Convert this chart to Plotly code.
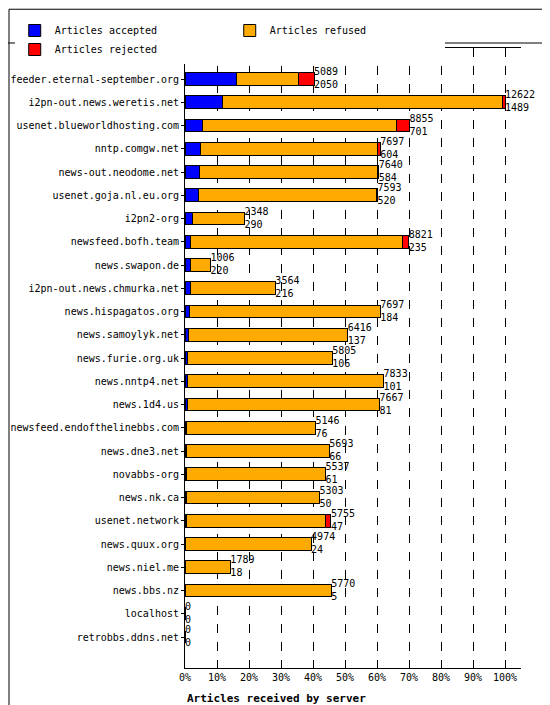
import plotly.graph_objects as go

# Per-server article counts
servers = ["feeder.eternal-september.org", "i2pn-out.news.weretis.net", "usenet.blueworldhosting.com",
           "nntp.comgw.net", "news-out.neodome.net", "usenet.goja.nl.eu.org", "i2pn2-org",
           "newsfeed.bofh.team", "news.swapon.de", "i2pn-out.news.chmurka.net", "news.hispagatos.org",
           "news.samoylyk.net", "news.furie.org.uk", "news.nntp4.net", "news.1d4.us",
           "newsfeed.endofthelinebbs.com", "news.dne3.net", "novabbs-org", "news.nk.ca",
           "usenet.network", "news.quux.org", "news.niel.me", "news.bbs.nz", "localhost", "retrobbs.ddns.net"]
offered = [5089, 12622, 8855, 7697, 7640, 7593, 2348, 8821, 1006, 3564, 7697, 6416, 5805, 7833, 7667,
           5146, 5693, 5537, 5303, 5755, 4974, 1789, 5770, 0, 0]
accepted = [2050, 1489, 701, 604, 584, 520, 290, 235, 220, 216, 184, 137, 106, 101, 81,
            76, 66, 61, 50, 47, 24, 18, 5, 0, 0]
rejected = [600, 100, 500, 100, 50, 30, 0, 250, 0, 0, 0, 0, 0, 0, 0,
            0, 0, 0, 0, 200, 0, 0, 0, 0, 0]
refused = [o - a - r for o, a, r in zip(offered, accepted, rejected)]
ticks = ["0%", "10%", "20%", "30%", "40%", "50%", "60%", "70%", "80%", "90%", "100%"]

scale = max(offered)
pct = lambda vals: [v / scale * 100 for v in vals]

mono = "DejaVu Sans Mono"
ML, MR, MT, MB = 177, 37, 40, 45
W, H = 550, 705
pw, ph = W - ML - MR, H - MT - MB

fig = go.Figure()
for name, vals, col in [("Articles accepted", accepted, "#0000ff"),
                        ("Articles refused", refused, "#ffaa00"),
                        ("Articles rejected", rejected, "#ff0000")]:
    fig.add_trace(go.Bar(y=servers, x=pct(vals), name=name, orientation="h",
                         marker=dict(color=col, line=dict(color="black", width=1))))

fig.add_trace(go.Scatter(y=servers, x=pct(offered), mode="text", showlegend=False,
                         text=[f"{o}<br>{a}" for o, a in zip(offered, accepted)],
                         textposition="middle right", textfont=dict(family=mono, size=10, color="black"),
                         cliponaxis=False))

# frame, legend separator
shapes = [
    dict(type="rect", xref="paper", yref="paper", x0=-ML / pw + 0.003, x1=1 + MR / pw - 0.003,
         y0=-MB / ph + 0.002, y1=1 + MT / ph - 0.002, line=dict(color="black", width=1)),
    dict(type="line", xref="paper", yref="paper", x0=-ML / pw, x1=1 + MR / pw,
         y0=1 + (MT - 35) / ph, y1=1 + (MT - 35) / ph, line=dict(color="black", width=1)),
]

fig.update_layout(
    width=W, height=H, barmode="stack", bargap=0.45,
    paper_bgcolor="white", plot_bgcolor="white",
    margin=dict(l=ML, r=MR, t=MT, b=MB, autoexpand=False),
    font=dict(family=mono, size=10, color="black"),
    legend=dict(orientation="h", traceorder="normal", x=-ML / pw + 0.02, y=1 + (MT - 8) / ph,
                yanchor="top", xanchor="left", entrywidth=170, font=dict(family=mono, size=10)),
    shapes=shapes,
    annotations=[dict(text="<b>Articles received by server</b>", xref="paper", yref="paper",
                      x=0, y=-30 / ph, xanchor="left", yanchor="middle", showarrow=False,
                      font=dict(family=mono, size=11))],
)
fig.update_xaxes(range=[0, 105], tickvals=list(range(0, 101, 10)), ticktext=ticks, automargin=False,
                 showgrid=True, gridcolor="black", griddash="dash", gridwidth=1,
                 showline=True, linecolor="black", mirror=True, zeroline=False, ticks="")
fig.update_yaxes(autorange="reversed", showline=True, linecolor="black", ticks="outside",
                 ticklen=3, tickcolor="black", automargin=False)

fig.write_html("out.html")
